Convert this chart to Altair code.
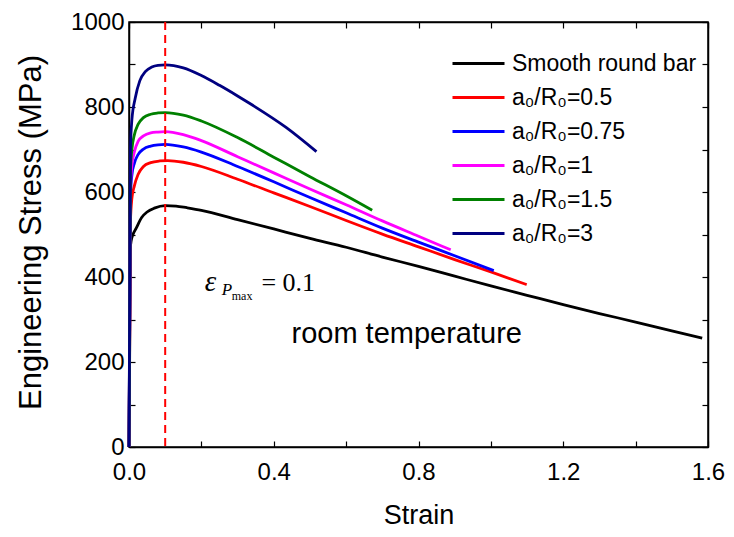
import altair as alt
import pandas as pd

series = ["Smooth round bar", "a₀/R₀=0.5", "a₀/R₀=0.75", "a₀/R₀=1", "a₀/R₀=1.5", "a₀/R₀=3"]
colors = ["#000000", "#ff0000", "#0000ff", "#ff00ff", "#008000", "#000080"]

smooth_x = [0, 0.004, 0.006, 0.01, 0.02, 0.035, 0.05, 0.07, 0.1, 0.13, 0.16, 0.2, 0.3, 0.4, 0.5, 0.6, 0.7, 0.8, 0.9, 1.0, 1.1, 1.2, 1.3, 1.4, 1.5, 1.584]
smooth_y = [0, 470, 485, 498, 515, 540, 553, 562, 568, 567, 563, 557, 535, 513, 491, 470, 447, 425, 402, 379, 357, 335, 314, 294, 273, 256]

r05_x = [0, 0.004, 0.008, 0.015, 0.025, 0.04, 0.06, 0.085, 0.107, 0.15, 0.2, 0.3, 0.4, 0.5, 0.6, 0.7, 0.8, 0.9, 1.0, 1.099]
r05_y = [0, 530, 585, 615, 641, 660, 669, 673, 674, 670, 660, 630, 598, 566, 533, 501, 471, 441, 412, 382]

r075_x = [0, 0.004, 0.008, 0.015, 0.025, 0.04, 0.06, 0.08, 0.1, 0.15, 0.2, 0.3, 0.4, 0.5, 0.6, 0.7, 0.8, 0.9, 1.008]
r075_y = [0, 590, 640, 668, 688, 701, 708, 711, 712, 706, 694, 660, 624, 587, 551, 515, 482, 450, 415]

r1_x = [0, 0.004, 0.008, 0.015, 0.025, 0.04, 0.06, 0.08, 0.1, 0.15, 0.2, 0.3, 0.4, 0.5, 0.6, 0.7, 0.8, 0.889]
r1_y = [0, 610, 662, 695, 719, 732, 739, 741, 742, 735, 721, 683, 645, 607, 570, 532, 496, 464]

r15_x = [0, 0.004, 0.008, 0.015, 0.025, 0.04, 0.06, 0.08, 0.1, 0.15, 0.2, 0.3, 0.4, 0.5, 0.6, 0.672]
r15_y = [0, 650, 700, 735, 759, 775, 783, 786, 787, 781, 767, 728, 682, 636, 591, 557]

r3_x = [0, 0.004, 0.008, 0.017, 0.03, 0.045, 0.063, 0.08, 0.1, 0.15, 0.2, 0.25, 0.3, 0.342, 0.434, 0.518]
r3_y = [0, 700, 770, 820, 862, 883, 894, 898, 899, 892, 874, 851, 826, 804, 752, 695]

x_ticks = [0, 0.2, 0.4, 0.6, 0.8, 1.0, 1.2, 1.4, 1.6]
y_ticks = [0, 100, 200, 300, 400, 500, 600, 700, 800, 900, 1000]

all_x = [smooth_x, r05_x, r075_x, r1_x, r15_x, r3_x]
all_y = [smooth_y, r05_y, r075_y, r1_y, r15_y, r3_y]

rows = []
for name, xs, ys in zip(series, all_x, all_y):
    for i, (xv, yv) in enumerate(zip(xs, ys)):
        rows.append({"series": name, "strain": xv, "stress": yv, "i": i})
df = pd.DataFrame(rows)

xscale = alt.Scale(domain=[0, 1.6], nice=False, zero=False)
yscale = alt.Scale(domain=[0, 1000], nice=False, zero=False)

tick_in = {"expr": "-6"}

x_axis = alt.Axis(values=x_ticks, labelExpr="round(datum.value*10) % 4 == 0 ? format(datum.value, '.1f') : ''",
                  tickSize=tick_in, labelPadding=19, labelFlush=False, labelOverlap=False, grid=False,
                  title="Strain", titleY=68, titleBaseline="middle", titleFontSize=27)
y_axis = alt.Axis(values=y_ticks, labelExpr="round(datum.value) % 200 == 0 ? format(datum.value, 'd') : ''",
                  tickSize=tick_in, labelPadding=11, labelFlush=False, labelOverlap=False, grid=False,
                  title="Engineering Stress (MPa)", titleX=-98, titleY=210, titleAngle=-90,
                  titleBaseline="middle", titleAlign="center", titleFontSize=31)

lines = alt.Chart(df).mark_line(strokeWidth=2.8, interpolate="monotone").encode(
    x=alt.X("strain:Q", scale=xscale, axis=x_axis),
    y=alt.Y("stress:Q", scale=yscale, axis=y_axis),
    color=alt.Color("series:N", scale=alt.Scale(domain=series, range=colors), sort=series,
                    legend=alt.Legend(orient="none", legendX=328, legendY=20, title=None,
                                      symbolType="M-1.3,0H1.3", symbolSize=1600, symbolStrokeWidth=3,
                                      symbolFillColor="transparent",
                                      labelFontSize=23, labelFont="Liberation Sans", labelColor="black",
                                      labelLimit=400, labelOffset=12, padding=0, rowPadding=0)),
    order=alt.Order("i:Q"),
)

vline = alt.Chart(pd.DataFrame({"v": [0.1]})).mark_rule(color="#ff0000", strokeDash=[8, 5], strokeWidth=2).encode(
    x=alt.X("v:Q", scale=xscale, axis=None)
)

top_axis = alt.Axis(values=x_ticks, labels=False, title=None, tickSize=tick_in, grid=False, orient="top")
right_axis = alt.Axis(values=y_ticks, labels=False, title=None, tickSize=tick_in, grid=False, orient="right")

room = alt.Chart(pd.DataFrame({"x": [0.449], "y": [244], "t": ["room temperature"]})).mark_text(
    align="left", baseline="alphabetic", font="Liberation Sans", fontSize=29, color="black"
).encode(
    x=alt.X("x:Q", scale=xscale, axis=top_axis),
    y=alt.Y("y:Q", scale=yscale, axis=right_axis),
    text="t:N",
)

eps = alt.Chart(pd.DataFrame({"x": [0.209], "y": [368], "t": ["ε"]})).mark_text(
    align="left", baseline="alphabetic", font="Liberation Serif", fontStyle="italic", fontSize=29, color="black"
).encode(x=alt.X("x:Q", scale=xscale, axis=None), y=alt.Y("y:Q", scale=yscale, axis=None), text="t:N")

sub_p = alt.Chart(pd.DataFrame({"x": [0.256], "y": [358], "t": ["P"]})).mark_text(
    align="left", baseline="alphabetic", font="Liberation Serif", fontStyle="italic", fontSize=17, color="black"
).encode(x=alt.X("x:Q", scale=xscale, axis=None), y=alt.Y("y:Q", scale=yscale, axis=None), text="t:N")

sub_max = alt.Chart(pd.DataFrame({"x": [0.284], "y": [345], "t": ["max"]})).mark_text(
    align="left", baseline="alphabetic", font="Liberation Serif", fontSize=12, color="black"
).encode(x=alt.X("x:Q", scale=xscale, axis=None), y=alt.Y("y:Q", scale=yscale, axis=None), text="t:N")

eq = alt.Chart(pd.DataFrame({"x": [0.366], "y": [368], "t": ["= 0.1"]})).mark_text(
    align="left", baseline="alphabetic", font="Liberation Serif", fontSize=26, color="black"
).encode(x=alt.X("x:Q", scale=xscale, axis=None), y=alt.Y("y:Q", scale=yscale, axis=None), text="t:N")

chart = alt.layer(lines, vline, room, eps, sub_p, sub_max, eq).resolve_axis(
    x="independent", y="independent"
).properties(
    width=579, height=425,
    autosize=alt.AutoSizeParams(type="none"),
    padding={"left": 121, "top": 14, "right": 18, "bottom": 82},
).configure_view(stroke="black", strokeWidth=1.5).configure_axis(
    labelFont="Liberation Sans", labelFontSize=24, labelColor="black",
    titleFont="Liberation Sans", titleFontSize=28, titleFontWeight="normal", titleColor="black",
    domainColor="black", domainWidth=1.5, tickColor="black", tickWidth=1.2,
)

chart.save("out.html", embed_options={"renderer": "svg", "actions": False})
